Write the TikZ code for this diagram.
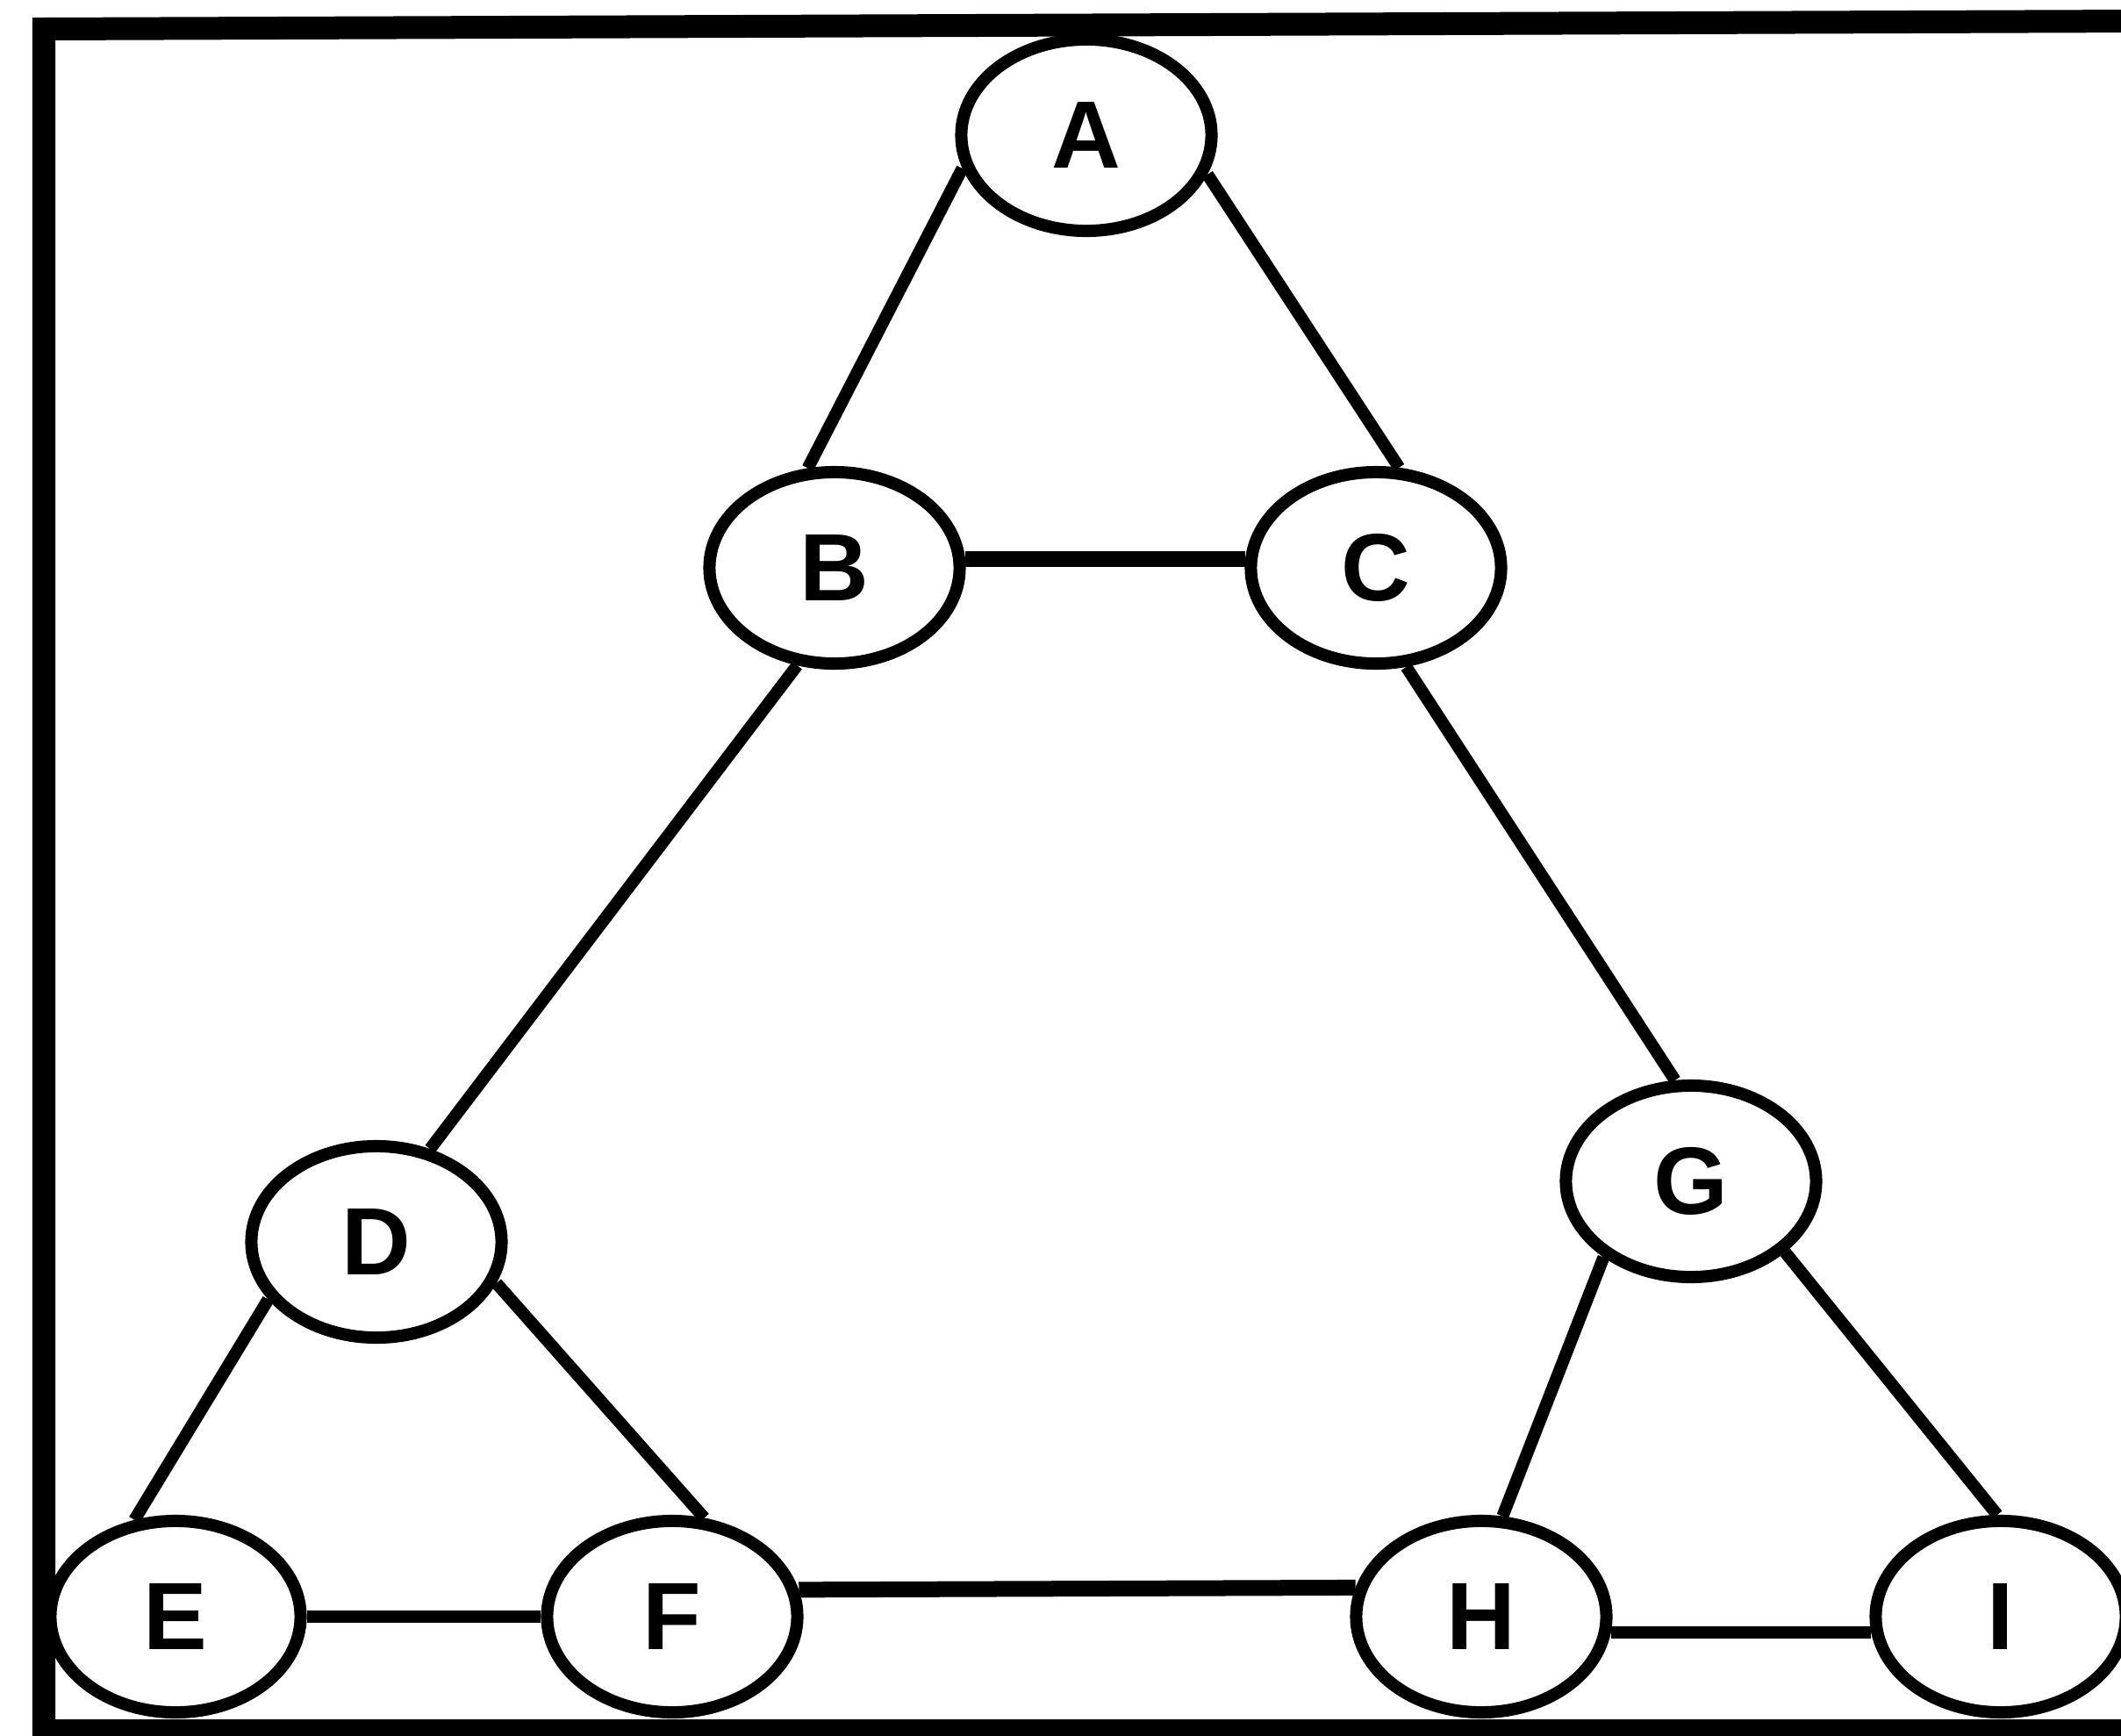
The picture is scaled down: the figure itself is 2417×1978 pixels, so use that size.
\documentclass[tikz,border=0pt]{standalone}
\usepackage{fontspec}
\setmainfont{Liberation Sans}
\usetikzlibrary{shapes.geometric}
\begin{document}
\begin{tikzpicture}[x=0.01cm,y=-0.01cm,
  vertex/.style={ellipse, draw, line width=0.14cm, minimum width=2.85cm, minimum height=2.18cm, inner sep=0pt, font=\fontsize{31}{36}\selectfont\bfseries},
  edge/.style={line width=0.14cm},
  thickedge/.style={line width=0.18cm},
  frame/.style={line width=0.26cm}]
\useasboundingbox (0,0) rectangle (2417,1978);
\clip (0,0) rectangle (2417,1978);
\draw[frame] (50,2010) -- (50,33) -- (2440,24);
\draw[frame] (37,1972) -- (2440,1972);
\node[vertex] (A) at (1238,154) {A};
\node[vertex] (B) at (951,647) {B};
\node[vertex] (C) at (1568,647) {C};
\node[vertex] (D) at (429,1415) {D};
\node[vertex] (G) at (1927,1346) {G};
\node[vertex] (E) at (200,1842) {E};
\node[vertex] (F) at (766,1842) {F};
\node[vertex] (H) at (1688,1842) {H};
\node[vertex] (I) at (2280,1842) {I};
\draw[edge] (A.195) -- (B.105);
\draw[edge] (A.342) -- (C.77);
\draw[thickedge] (B.4) -- (C.176);
\draw[edge] (B.249) -- (D.60);
\draw[edge] (C.287) -- (G.99);
\draw[edge] (D.208) -- (E.113);
\draw[edge] (D.341) -- (F.72);
\draw[edge] (E.east) -- (F.west);
\draw[thickedge] (F.12) -- (H.167);
\draw[edge] (H.353) -- (I.187);
\draw[edge] (G.221) -- (H.78);
\draw[edge] (G.323) -- (I.92);
\end{tikzpicture}
\end{document}
